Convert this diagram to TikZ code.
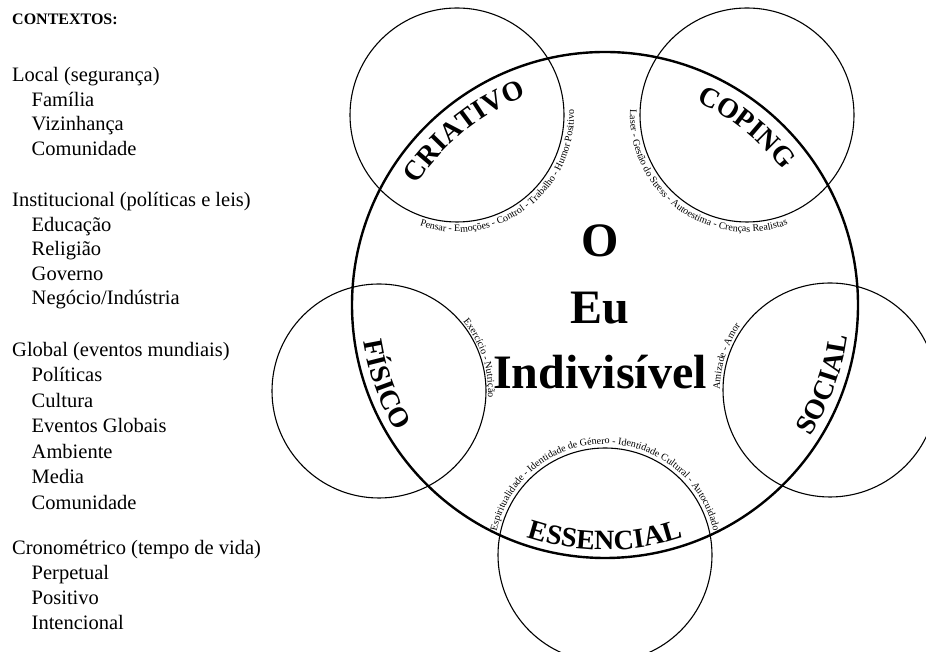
\documentclass[tikz,border=0pt]{standalone}
\usepackage{fontspec}
\setmainfont{Liberation Serif}
\usetikzlibrary{decorations.text}

% fonts used in the drawing
\newcommand\lblfont{\fontsize{28}{30}\selectfont\bfseries}
\newcommand\smallfont{\fontsize{10}{12}\selectfont}
\newcommand\corefont{\fontsize{48}{54}\selectfont\bfseries}

\begin{document}
\begin{tikzpicture}[x=1pt,y=1pt,
  bigring/.style={draw, circle, line width=2.4pt, minimum size=506pt, inner sep=0pt},
  ring/.style={draw, circle, line width=1.1pt, minimum size=214pt, inner sep=0pt},
  ctxhead/.style={anchor=base west, inner sep=0pt, font=\fontsize{16}{18}\selectfont\bfseries},
  ctxmain/.style={anchor=base west, inner sep=0pt, font=\fontsize{20.5}{24}\selectfont},
  ctxsub/.style={ctxmain},
  core/.style={anchor=base, inner sep=0pt, font=\corefont},
  arclabel/.style={decorate, decoration={text along path, text align=center,
      text={|\lblfont|#1}}},
  arcnote/.style={decorate, decoration={text along path, text align=center,
      text={|\smallfont|#1}}}
]
\useasboundingbox (0,0) rectangle (926,652);
\clip (0,0) rectangle (926,652);

% ---------- contexts list ----------
\node[ctxhead] (hdr) at (12,627) {CONTEXTOS:};
\node[ctxmain] (loc)  at (12,570)   {Local (segurança)};
\node[ctxsub]  (loc1) at (31.5,545.5) {Família};
\node[ctxsub]  (loc2) at (31.5,521)   {Vizinhança};
\node[ctxsub]  (loc3) at (31.5,496.5) {Comunidade};
\node[ctxmain] (ins)  at (12,445.5) {Institucional (políticas e leis)};
\node[ctxsub]  (ins1) at (31.5,420.5) {Educação};
\node[ctxsub]  (ins2) at (31.5,396)   {Religião};
\node[ctxsub]  (ins3) at (31.5,371.5) {Governo};
\node[ctxsub]  (ins4) at (31.5,347)   {Negócio/Indústria};
\node[ctxmain] (glo)  at (12,295.5) {Global (eventos mundiais)};
\node[ctxsub]  (glo1) at (31.5,270)   {Políticas};
\node[ctxsub]  (glo2) at (31.5,244.5) {Cultura};
\node[ctxsub]  (glo3) at (31.5,219)   {Eventos Globais};
\node[ctxsub]  (glo4) at (31.5,193.5) {Ambiente};
\node[ctxsub]  (glo5) at (31.5,168)   {Media};
\node[ctxsub]  (glo6) at (31.5,142.5) {Comunidade};
\node[ctxmain] (cro)  at (12,97)    {Cronométrico (tempo de vida)};
\node[ctxsub]  (cro1) at (31.5,72)    {Perpetual};
\node[ctxsub]  (cro2) at (31.5,47)    {Positivo};
\node[ctxsub]  (cro3) at (31.5,22)    {Intencional};

% ---------- circles ----------
\node[bigring] (self) at (605,347) {};
\node[ring] (criativo)  at (457,537) {};
\node[ring] (coping)    at (747,537) {};
\node[ring] (fisico)    at (379,261) {};
\node[ring] (social)    at (830,262) {};
\node[ring] (essencial) at (605,97)  {};

% ---------- centre title ----------
\node[core] (t1) at (600,395) {O};
\node[core] (t2) at (600,328) {Eu};
\node[core] (t3) at (600,263) {Indivisível};

% ---------- dimension labels along the big circle ----------
\path[arclabel=CRIATIVO]  (self.center) ++(169:223) arc[start angle=169, end angle=89, radius=223];
\path[arclabel=COPING]    (self.center) ++(91.5:223) arc[start angle=91.5, end angle=11.5, radius=223];
\path[arclabel=FÍSICO]    (self.center) ++(160:244) arc[start angle=160, end angle=240, radius=244];
\path[arclabel=SOCIAL]    (self.center) ++(300:244) arc[start angle=300, end angle=380, radius=244];
\path[arclabel=ESSENCIAL] (self.center) ++(230:245) arc[start angle=230, end angle=310, radius=245];

% ---------- notes around the small circles ----------
\path[arcnote={Pensar - Emoções - Control - Trabalho - Humor Positivo}]
  (criativo.center) ++(219:117) arc[start angle=219, end angle=395, radius=117];
\path[arcnote={Laser - Gestão do Stress - Autoestima - Crenças Realistas}]
  (coping.center) ++(146:117) arc[start angle=146, end angle=322, radius=117];
\path[arcnote={Exercício - Nutrição}]
  (fisico.center) ++(106:109) arc[start angle=106, end angle=-70, radius=109];
\path[arcnote={Amizade - Amor}]
  (social.center) ++(250:110) arc[start angle=250, end angle=74, radius=110];
\path[arcnote={Espiritualidade - Identidade de Género - Identidade Cultural - Autocuidado}]
  (essencial.center) ++(180:111) arc[start angle=180, end angle=0, radius=111];
\end{tikzpicture}
\end{document}
